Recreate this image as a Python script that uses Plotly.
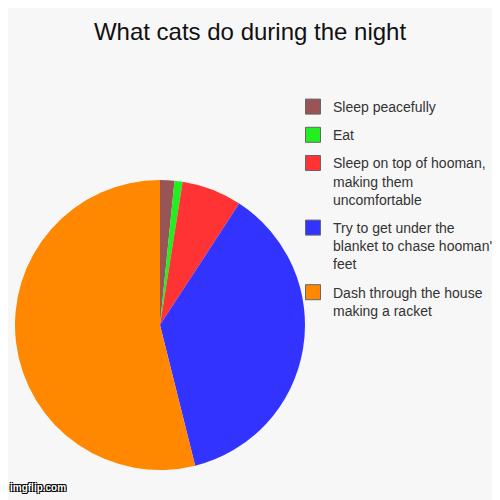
import plotly.graph_objects as go

# slices, clockwise from 12 o'clock
labels = [
    "Sleep peacefully",
    "Eat",
    "Sleep on top of hooman,<br>making them<br>uncomfortable",
    "Try to get under the<br>blanket to chase hooman's<br>feet",
    "Dash through the house<br>making a racket",
]
values = [1.6, 0.9, 6.7, 36.9, 53.9]
colors = ["#995555", "#22ee22", "#ff3333", "#3333ff", "#ff8800"]

W = 500
# page has an 8px body margin, so positions below are in figure pixels

fig = go.Figure()
fig.add_trace(go.Pie(
    labels=labels, values=values,
    marker=dict(colors=colors, line=dict(width=0)),
    sort=False, direction="clockwise", rotation=0,
    textinfo="none", hoverinfo="label+percent",
    domain=dict(x=[7 / W, 297 / W], y=[1 - 462 / W, 1 - 172 / W]),
    showlegend=False,
))

# legend entries (one group per slice so the gap can be set)
for i in range(len(labels)):
    fig.add_trace(go.Scatter(
        x=[None], y=[None], mode="markers", name=labels[i],
        legendgroup="g%d" % i,
        marker=dict(symbol="square", size=15, color=colors[i],
                    line=dict(color="#666666", width=1)),
    ))

fig.update_layout(
    width=W, height=W,
    margin=dict(l=0, r=0, t=0, b=0),
    paper_bgcolor="#f7f7f7", plot_bgcolor="#f7f7f7",
    font=dict(family="Liberation Sans, Arial", color="#222222"),
    title=dict(text="What cats do during the night", x=242 / W, xanchor="center",
               y=1 - 24 / W, yanchor="middle",
               font=dict(size=24, color="#111111")),
    xaxis=dict(visible=False), yaxis=dict(visible=False),
    legend=dict(x=285 / W, y=1 - 83 / W, xanchor="left", yanchor="top",
                font=dict(size=14, color="#333333"), valign="top",
                itemsizing="trace", tracegroupgap=7, traceorder="grouped",
                bgcolor="rgba(0,0,0,0)"),
    annotations=[dict(text="<b>imgflip.com</b>", x=0, y=1 - 487 / W,
                      xref="paper", yref="paper", xanchor="left", yanchor="bottom",
                      showarrow=False,
                      font=dict(size=10, color="#ffffff", family="Liberation Sans, Arial",
                                shadow="-1px -1px 0 #000, 1px -1px 0 #000, -1px 1px 0 #000, 1px 1px 0 #000"))],
)

fig.write_html("out.html")
